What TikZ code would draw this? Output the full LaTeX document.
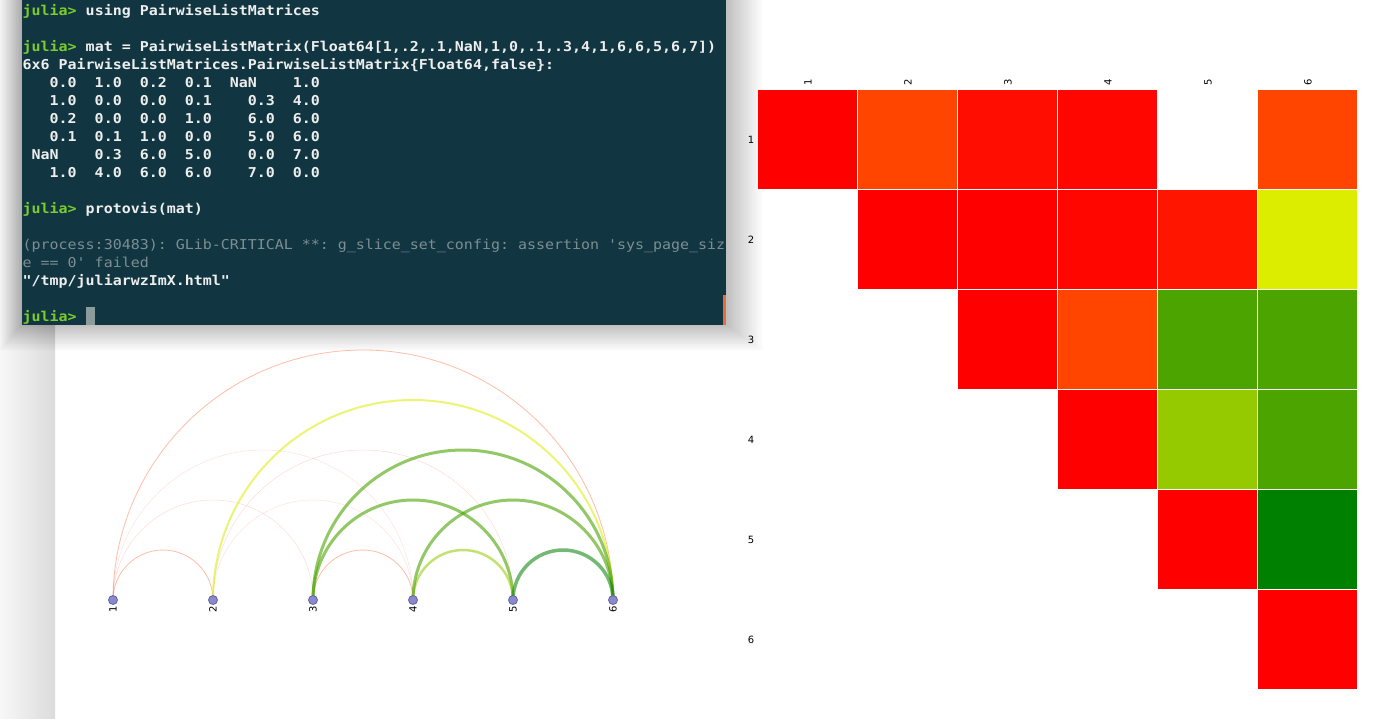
\documentclass[tikz,border=0pt]{standalone}
\usepackage{fontspec}
\usetikzlibrary{math}
\newfontfamily\termfont{DejaVu Sans Mono}[FakeStretch=1.1]
\newfontfamily\labelfont{DejaVu Sans}
\definecolor{termBg}{RGB}{17,54,66}
\definecolor{termFg}{RGB}{238,238,236}
\definecolor{termGrey}{RGB}{125,142,146}
\definecolor{juliaGreen}{RGB}{124,204,44}
\definecolor{cursorGrey}{RGB}{138,156,156}
\definecolor{scrollOrange}{RGB}{226,112,62}
\definecolor{dotFill}{RGB}{137,137,204}
\definecolor{dotLine}{RGB}{98,98,168}
\definecolor{val0}{RGB}{255,0,0}
\definecolor{val01}{RGB}{255,7,0}
\definecolor{val02}{RGB}{255,14,0}
\definecolor{val03}{RGB}{255,21,0}
\definecolor{val1}{RGB}{255,69,0}
\definecolor{val4}{RGB}{220,237,0}
\definecolor{val5}{RGB}{149,201,0}
\definecolor{val6}{RGB}{75,164,0}
\definecolor{val7}{RGB}{0,128,0}
\newcommand\prompt{\textcolor{juliaGreen}{julia>}}
\pgfdeclarelayer{page}
\pgfdeclarelayer{links}
\pgfsetlayers{page,links,main}
\tikzset{
    half arc/.style={
        to path={
            [evaluate={
                coordinate \arcFrom, \arcTo;
                \arcFrom = (\tikztostart);
                \arcTo = (\tikztotarget);
                \arcRadius = (\arcTox - \arcFromx)/2;
            }]
            arc[radius=\arcRadius pt, start angle=180, end angle=0] \tikztonodes
        }
    },
    term line/.style={anchor=base west, inner sep=0pt, text=termFg,
        font=\termfont\bfseries\fontsize{13.6}{18}\selectfont},
    warn line/.style={term line, text=termGrey,
        font=\termfont\fontsize{13.6}{18}\selectfont},
    dot/.style={circle, fill=dotFill, draw=dotLine, line width=0.8pt,
        minimum size=9pt, inner sep=0pt},
    tick label/.style={font=\labelfont\fontsize{10}{12}\selectfont, inner sep=0pt}
}
\begin{document}
\begin{tikzpicture}[x=1pt, y=-1pt]
    \useasboundingbox (0,0) rectangle (1394,718);

    \begin{pgfonlayer}{page}
        \fill[white] (0,0) rectangle (1394,718);
        \shade[left color=black!3, right color=black!14] (0,0) rectangle (55,718);
        % terminal shadow
        \foreach \s in {1,...,32}
            \fill[black, opacity=0.0095] (22-0.7*\s, -10) rectangle (726+1.15*\s, 324+0.85*\s);
    \end{pgfonlayer}

    % matrix view
    \foreach \i/\j/\c in {1/1/val0, 1/2/val1, 1/3/val02, 1/4/val01, 1/6/val1,
            2/2/val0, 2/3/val0, 2/4/val01, 2/5/val03, 2/6/val4,
            3/3/val0, 3/4/val1, 3/5/val6, 3/6/val6,
            4/4/val0, 4/5/val5, 4/6/val6,
            5/5/val0, 5/6/val7,
            6/6/val0}
        \fill[\c] (658+100*\j, -10+100*\i) rectangle ++(99,99);
    \foreach \k in {1,...,6} {
        \node[tick label] (row\k) at (751, 40+100*\k) {\k};
        \node[tick label, rotate=90, anchor=west] (col\k) at (708+100*\k, 86) {\k};
    }

    % arc view
    \foreach \i in {1,...,6} {
        \node[dot] (n\i) at (13+100*\i, 600) {};
        \node[tick label, rotate=90, anchor=east] (lab\i) at (13+100*\i, 606) {\i};
    }
    \begin{pgfonlayer}{links}
        \foreach \i/\j/\w/\o/\c in {1/2/0.8/0.35/val1, 1/3/0.5/0.15/val02, 1/4/0.5/0.12/val01,
                1/6/0.8/0.35/val1, 2/4/0.5/0.12/val01, 2/5/0.5/0.16/val03, 2/6/2/0.55/val4,
                3/4/0.8/0.35/val1, 3/5/3/0.6/val6, 3/6/3/0.6/val6, 4/5/2.5/0.55/val5,
                4/6/3/0.6/val6, 5/6/3.5/0.55/val7}
            \draw[\c, line width=\w pt, draw opacity=\o] (n\i.center) to[half arc] (n\j.center);
    \end{pgfonlayer}

    % terminal window
    \fill[termBg] (22,0) rectangle (726,325);
    \fill[scrollOrange] (723,295) rectangle (726,325);
    \node[term line] (using) at (22.5, 15.5) {\prompt~using~PairwiseListMatrices};
    \node[term line] (call) at (22.5, 51.5)
        {\prompt~mat~=~PairwiseListMatrix(Float64[1,.2,.1,NaN,1,0,.1,.3,4,1,6,6,5,6,7])};
    \node[term line] (type) at (22.5, 69.5)
        {6x6~PairwiseListMatrices.PairwiseListMatrix\{Float64,false\}:};
    \node[term line] (rowA) at (22.5, 87.5) {~~~0.0~~1.0~~0.2~~0.1~~NaN~~~~1.0};
    \node[term line] (rowB) at (22.5, 105.5) {~~~1.0~~0.0~~0.0~~0.1~~~~0.3~~4.0};
    \node[term line] (rowC) at (22.5, 123.5) {~~~0.2~~0.0~~0.0~~1.0~~~~6.0~~6.0};
    \node[term line] (rowD) at (22.5, 141.5) {~~~0.1~~0.1~~1.0~~0.0~~~~5.0~~6.0};
    \node[term line] (rowE) at (22.5, 159.5) {~NaN~~~~0.3~~6.0~~5.0~~~~0.0~~7.0};
    \node[term line] (rowF) at (22.5, 177.5) {~~~1.0~~4.0~~6.0~~6.0~~~~7.0~~0.0};
    \node[term line] (plot) at (22.5, 213.5) {\prompt~protovis(mat)};
    \node[warn line] (warnA) at (22.5, 249.5)
        {(process:30483):~GLib-CRITICAL~**:~g\_slice\_set\_config:~assertion~\char39 sys\_page\_siz};
    \node[warn line] (warnB) at (22.5, 267.5) {e~==~0\char39~failed};
    \node[term line] (file) at (22.5, 285.5) {\char34/tmp/juliarwzImX.html\char34};
    \node[term line] (ready) at (22.5, 321.5) {\prompt};
    \fill[cursorGrey] (86,307) rectangle (95,325);
\end{tikzpicture}
\end{document}
